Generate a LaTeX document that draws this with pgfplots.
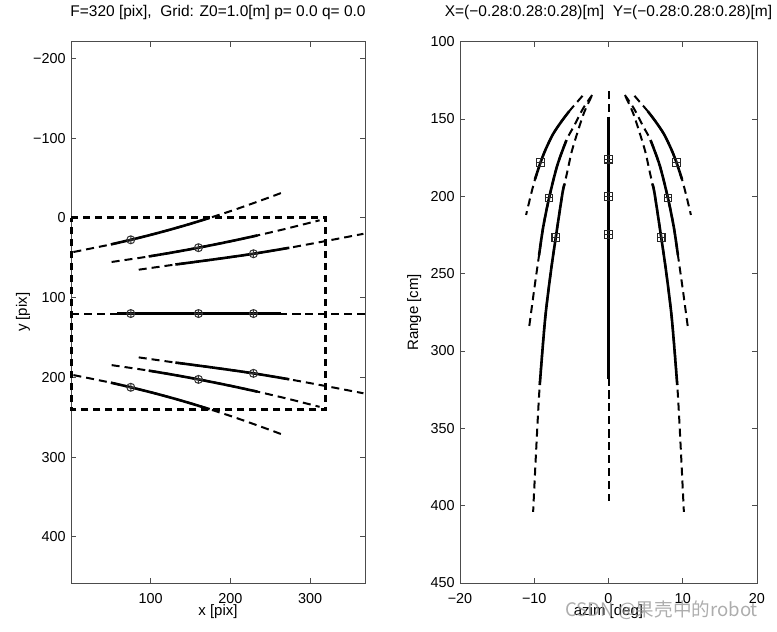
\documentclass[border=0pt]{standalone}
\usepackage{pgfplots}
\pgfplotsset{compat=1.18}
\usepackage{fontspec}
\setmainfont{Liberation Sans}
\newfontfamily\cjk{Noto Sans CJK SC}
\usetikzlibrary{plotmarks}

\pgfplotsset{
  mstyle/.style={
    scale only axis, clip=false,
    anchor=south west,
    height=270.65pt,
    y dir=reverse,
    tick align=inside,
    major tick length=2.5pt,
    /pgf/number format/assume math mode=true,
    axis line style={black!70, line width=0.5pt},
    tick style={black!70, line width=0.5pt},
    tick label style={font=\fontsize{7.2}{8}\selectfont},
    title style={font=\fontsize{7.75}{9}\selectfont, at={(0.5,1)}, anchor=base, yshift=6.4pt},
    xticklabel style={inner sep=0pt, anchor=north, yshift=-5pt},
    yticklabel style={inner sep=0pt, anchor=east, xshift=-2.5pt},
    every axis x label/.style={font=\fontsize{7.5}{9}\selectfont, at={(axis description cs:0.5,0)}, anchor=base, yshift=-16pt},
  },
  dsh/.style={black, line width=1pt, dash pattern=on 4pt off 2.5pt, smooth, no markers},
  sld/.style={black, line width=1.3pt, solid, smooth, no markers},
  opl/.style={only marks, mark=oplus, mark size=2pt, mark options={black!80, line width=0.5pt, solid}},
  sqm/.style={only marks, mark=square, mark size=1.9pt, mark options={black!85, line width=0.55pt, solid}},
  plm/.style={only marks, mark=+, mark size=1.9pt, mark options={black!85, line width=0.45pt, solid}},
}

\begin{document}
\begin{tikzpicture}
\useasboundingbox (0,0) rectangle (388.5pt,316pt);

% ---------------- left panel ----------------
\begin{axis}[mstyle,
  at={(35.5pt,24.5pt)}, width=147pt,
  xmin=0, xmax=369, ymin=-221, ymax=458,
  xtick={100,200,300},
  ytick={-200,-100,0,100,200,300,400},
  yticklabels={−200,−100,0,100,200,300,400},
  title={F=320 [pix],\ \ Grid: Z0=1.0[m] p= 0.0 q= 0.0},
  xlabel={x [pix]}, ylabel={y [pix]},
  every axis y label/.style={font=\fontsize{7.5}{9}\selectfont, at={(axis description cs:0,0.5)}, xshift=-22pt, rotate=90, anchor=base},
]
% image frame
\addplot[black, line width=1.5pt, dash pattern=on 3.7pt off 2.3pt, no markers]
  coordinates {(0,0)(320,0)(320,240)(0,240)(0,0)};
% top row lines
\addplot[dsh] coordinates {(3,42.8)(50,33.3)(75,27.5)(100,21.3)(125,14.6)(150,7.4)(174,0)(200,-8.4)(225,-17.1)(250,-26.1)(268,-32.8)};
\addplot[sld] coordinates {(50,33.3)(75,27.5)(100,21.3)(125,14.6)(150,7.4)(174,0)};
\addplot[dsh] coordinates {(51,55.3)(75,51.8)(97.5,48.4)(125,43.8)(160,37.4)(200,29.4)(234,22.0)(270,13.6)(312,3.0)};
\addplot[sld] coordinates {(97.5,48.4)(125,43.8)(160,37.4)(200,29.4)(234,22.0)};
\addplot[dsh] coordinates {(85,65)(131,58.5)(180,52)(229,45)(274,37.5)(320,29)(367,20)};
\addplot[sld] coordinates {(131,58.5)(180,52)(229,45)(274,37.5)};
% middle row
\addplot[dsh] coordinates {(0,120)(369,120)};
\addplot[sld] coordinates {(58,120)(263,120)};
% bottom row lines
\addplot[dsh] coordinates {(3,197.2)(50,206.7)(75,212.5)(100,218.7)(125,225.4)(150,232.6)(174,240)(200,248.4)(225,257.1)(250,266.1)(268,272.8)};
\addplot[sld] coordinates {(50,206.7)(75,212.5)(100,218.7)(125,225.4)(150,232.6)(174,240)};
\addplot[dsh] coordinates {(51,184.7)(75,188.2)(97.5,191.6)(125,196.2)(160,202.6)(200,210.6)(234,218.0)(270,226.4)(312,237.0)};
\addplot[sld] coordinates {(97.5,191.6)(125,196.2)(160,202.6)(200,210.6)(234,218.0)};
\addplot[dsh] coordinates {(85,175)(131,181.5)(180,188)(229,195)(274,202.5)(320,211)(367,220)};
\addplot[sld] coordinates {(131,181.5)(180,188)(229,195)(274,202.5)};
% grid points
\addplot[opl] coordinates {(75,27.5)(160,37.4)(229,45)(75,120)(160,120)(229,120)(75,212.5)(160,202.6)(229,195)};
\end{axis}

% ---------------- right panel ----------------
\begin{axis}[mstyle,
  at={(230pt,24.5pt)}, width=148.5pt,
  xmin=-20, xmax=20, ymin=100, ymax=450,
  xtick={-20,-10,0,10,20},
  xticklabels={−20,−10,0,10,20},
  ytick={100,150,200,250,300,350,400,450},
  title={X=(−0.28:0.28:0.28)[m]\ \ Y=(−0.28:0.28:0.28)[m]},
  xlabel={azim [deg]}, ylabel={Range [cm]},
  every axis y label/.style={font=\fontsize{7.5}{9}\selectfont, at={(axis description cs:0,0.5)}, xshift=-21pt, rotate=90, anchor=base},
]
% centre column
\addplot[dsh] coordinates {(0,132)(0,397)};
\addplot[sld] coordinates {(0,148.5)(0,318)};
% left curves
\addplot[dsh] coordinates {(-3.5,135)(-4.4,140)(-5.3,145)(-6.4,152)(-7.5,160)(-8.5,170)(-9.15,178)(-9.9,189)(-10.5,200)(-11.1,212)};
\addplot[sld] coordinates {(-5.3,145)(-6.4,152)(-7.5,160)(-8.5,170)(-9.15,178)(-9.9,189)};
\addplot[dsh] coordinates {(-2.2,134.5)(-3.4,143)(-4.7,155)(-5.66,163.6)(-6.9,180)(-8.0,201)(-8.8,220)(-9.35,238)(-10.0,260)(-10.7,285)};
\addplot[sld] coordinates {(-5.66,163.6)(-6.9,180)(-8.0,201)(-8.8,220)(-9.35,238)};
\addplot[dsh] coordinates {(-2.3,135.5)(-3.3,146)(-4.2,159)(-4.95,171)(-5.5,183)(-5.92,192)(-6.2,198)(-7.1,226.5)(-7.8,250)(-8.55,280)(-9.26,322)(-9.7,360)(-10.15,404)};
\addplot[sld] coordinates {(-5.92,192)(-6.2,198)(-7.1,226.5)(-7.8,250)(-8.55,280)(-9.26,322)};
% right curves
\addplot[dsh] coordinates {(3.5,135)(4.4,140)(5.3,145)(6.4,152)(7.5,160)(8.5,170)(9.15,178)(9.9,189)(10.5,200)(11.1,212)};
\addplot[sld] coordinates {(5.3,145)(6.4,152)(7.5,160)(8.5,170)(9.15,178)(9.9,189)};
\addplot[dsh] coordinates {(2.2,134.5)(3.4,143)(4.7,155)(5.66,163.6)(6.9,180)(8.0,201)(8.8,220)(9.35,238)(10.0,260)(10.7,285)};
\addplot[sld] coordinates {(5.66,163.6)(6.9,180)(8.0,201)(8.8,220)(9.35,238)};
\addplot[dsh] coordinates {(2.3,135.5)(3.3,146)(4.2,159)(4.95,171)(5.5,183)(5.92,192)(6.2,198)(7.1,226.5)(7.8,250)(8.55,280)(9.26,322)(9.7,360)(10.15,404)};
\addplot[sld] coordinates {(5.92,192)(6.2,198)(7.1,226.5)(7.8,250)(8.55,280)(9.26,322)};
% grid points
\addplot[sqm] coordinates {(0,176)(0,200)(0,224.5)(-9.15,178)(-8.0,201)(-7.1,226.5)(9.15,178)(8.0,201)(7.1,226.5)};
\addplot[plm] coordinates {(0,176)(0,200)(0,224.5)(-9.15,178)(-8.0,201)(-7.1,226.5)(9.15,178)(8.0,201)(7.1,226.5)};
\end{axis}

\node[anchor=base west, inner sep=0pt, text=black!40, opacity=0.8, font=\cjk\fontsize{9.3}{10}\selectfont] at (282.5pt,7.5pt) {CSDN @果壳中的robot};
\end{tikzpicture}
\end{document}
